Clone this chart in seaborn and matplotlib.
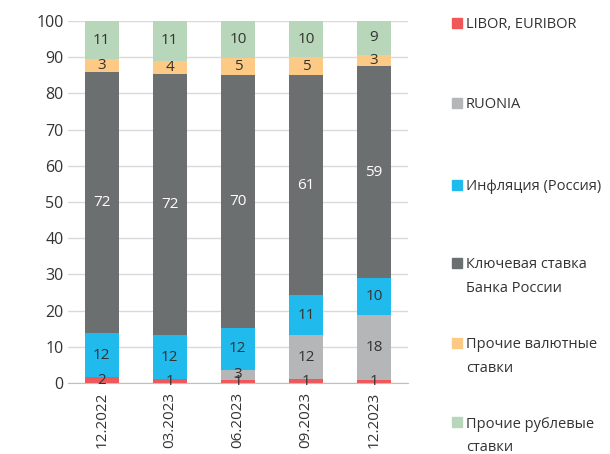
import matplotlib
matplotlib.use('Agg')
import matplotlib.pyplot as plt
from matplotlib.patches import Rectangle
import seaborn as sns
import numpy as np

dates = ['12.2022', '03.2023', '06.2023', '09.2023', '12.2023']

libor = [1.6, 1.1, 0.9, 1.2, 1.0]
ruonia = [0.0, 0.0, 2.8, 12.0, 17.8]
inflation = [12.2, 12.1, 11.6, 11.1, 10.1]
key_rate = [72.2, 72.1, 69.7, 60.7, 58.6]
other_fx = [3.4, 3.6, 4.7, 4.9, 3.1]
other_rub = [10.7, 11.1, 10.4, 10.1, 9.4]

series_names = ['LIBOR, EURIBOR', 'RUONIA', 'Инфляция (Россия)',
                'Ключевая ставка\nБанка России', 'Прочие валютные\nставки',
                'Прочие рублевые\nставки']
series_values = [libor, ruonia, inflation, key_rate, other_fx, other_rub]
colors = ['#EF5759', '#B5B6B8', '#20BBEC', '#6C6F70', '#FDCA86', '#B8D7BA']
label_colors = ['#333333', '#333333', '#333333', 'white', '#333333', '#333333']

sns.set_style('white')
plt.rcParams['font.family'] = ['Open Sans', 'DejaVu Sans']

fig = plt.figure(figsize=(6.1, 4.54), dpi=100)
ax = fig.add_axes([0.111, 0.156, 0.558, 0.798])

bottom = np.zeros(len(dates))
for vals, col, lc in zip(series_values, colors, label_colors):
    sns.barplot(x=dates, y=vals, bottom=bottom, color=col, saturation=1,
                width=0.5, linewidth=0, ax=ax, zorder=3)
    cont = ax.containers[-1]
    labels = [f'{round(v):d}' if v > 0 else '' for v in vals]
    txts = ax.bar_label(cont, labels=labels, label_type='center', color=lc,
                        fontsize=11)
    for t in txts:
        t.set_zorder(6)
    bottom = bottom + np.array(vals)

ax.set_ylim(0, 100)
ax.set_xlim(-0.5, 4.5)
ax.set_yticks(range(0, 101, 10))
ax.yaxis.grid(True, color='#D9D9D9', linewidth=1, zorder=0)
ax.set_axisbelow(True)
for s in ['left', 'right', 'top']:
    ax.spines[s].set_visible(False)
ax.spines['bottom'].set_color('#BFBFBF')
ax.spines['bottom'].set_zorder(4)
ax.tick_params(axis='y', length=0, labelsize=11.5, labelcolor='#333333', pad=3)
ax.tick_params(axis='x', which='major', length=0, labelsize=11,
               labelcolor='#333333', rotation=90, pad=6)
ax.set_xticks(np.arange(-0.5, 5, 1), minor=True)
ax.tick_params(axis='x', which='minor', length=5, color='#BFBFBF', direction='out')
ax.set_xlabel('')
ax.set_ylabel('')

# legend on the right, one text per line so spacing matches
legend_y = [22.7, 103, 185, 263, 343, 422]
for name, col, yp in zip(series_names, colors, legend_y):
    yf = 1 - yp / 454
    fig.add_artist(Rectangle((452 / 610, yf - 5 / 454), 10 / 610, 10 / 454,
                             transform=fig.transFigure, color=col))
    for k, line in enumerate(name.split('\n')):
        fig.text(466 / 610, yf - k * 23.5 / 454, line, va='center_baseline',
                 ha='left', fontsize=10.5, color='#333333')

fig.savefig('out.png', dpi=100)
